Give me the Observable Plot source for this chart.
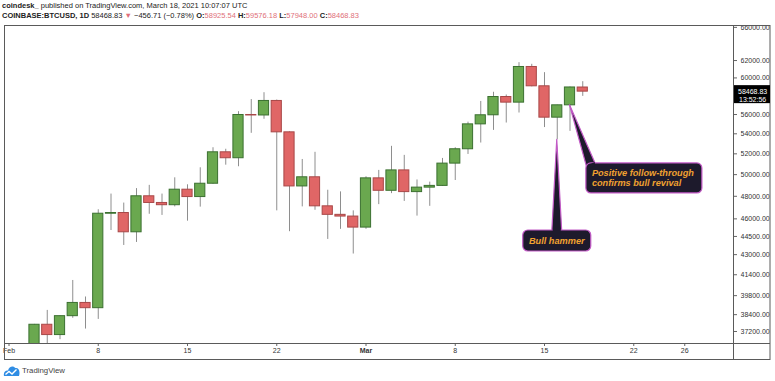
<!DOCTYPE html>
<html><head><meta charset="utf-8">
<script src="https://cdn.jsdelivr.net/npm/d3@7"></script>
<script src="https://cdn.jsdelivr.net/npm/@observablehq/plot@0.6"></script>
<style>
body{margin:0;background:#fff;width:775px;height:381px;overflow:hidden;position:relative;font-family:"Liberation Sans",Arial,sans-serif;}
#hdr{position:absolute;left:2px;top:1px;font-size:7.5px;line-height:10px;color:#222;white-space:nowrap}
#hdr .r{color:#e0707a}
#chart{position:absolute;left:0;top:23px}
#foot{position:absolute;left:3px;top:363px;height:14px;display:flex;align-items:center;font-size:7.8px;color:#444}
#foot svg{margin-right:2px}
</style></head><body>
<div id="hdr">
<div><b>coindesk_</b> published on TradingView.com, March 18, 2021 10:07:07 UTC</div>
<div><b>COINBASE:BTCUSD, 1D</b> 58468.83 <span class="r">▼</span> −456.71 (−0.78%) <b>O:</b><span class="r">58925.54</span> <b>H:</b><span class="r">59576.18</span> <b>L:</b><span class="r">57948.00</span> <b>C:</b><span class="r">58468.83</span></div>
</div>
<div id="chart"></div>
<div id="foot"><svg width="17" height="13" viewBox="0 0 17 13"><path d="M1,12 C0,8 3,6 5,6.5 C6,2.5 10,1 12.5,4 C15.5,3.5 17.5,7 16,12 Z" fill="#2f8de4"/><path d="M2.5,10.5 L6,7.5 L9,10 L13.5,5.5" fill="none" stroke="#fff" stroke-width="1.4"/></svg><span>TradingView</span></div>
<script>
// ---- data (BTC/USD daily, Coinbase) ----
const dates = ["2021-02-03","2021-02-04","2021-02-05","2021-02-06","2021-02-07","2021-02-08","2021-02-09","2021-02-10","2021-02-11","2021-02-12","2021-02-13","2021-02-14","2021-02-15","2021-02-16","2021-02-17","2021-02-18","2021-02-19","2021-02-20","2021-02-21","2021-02-22","2021-02-23","2021-02-24","2021-02-25","2021-02-26","2021-02-27","2021-02-28","2021-03-01","2021-03-02","2021-03-03","2021-03-04","2021-03-05","2021-03-06","2021-03-07","2021-03-08","2021-03-09","2021-03-10","2021-03-11","2021-03-12","2021-03-13","2021-03-14","2021-03-15","2021-03-16","2021-03-17","2021-03-18"];
const openP  = [35510,37675,36950,38290,39257,38871,46448,46510,44850,48000,47400,47200,48600,47930,49150,52150,51570,55950,55900,57450,54150,48900,49750,47100,46350,46200,45250,49650,48500,50400,48380,48790,48950,51050,52450,54970,55920,57880,57270,61250,59060,55670,56980,58925.54];
const highP  = [37700,38708,38310,40955,39700,46795,48200,47390,48700,49000,48200,49700,49050,50650,52600,52450,56300,57600,58350,57550,54200,51450,52150,48550,48400,46700,49800,50400,52740,51850,49500,49300,51550,52600,55200,57400,58400,58100,61750,61560,60600,57000,58980,59576.18];
const lowP   = [35362,36161,36630,38138,37371,38056,45000,43750,44000,46400,46300,47050,45800,47030,49100,50900,50750,54050,55500,46700,44900,47050,46750,44250,45100,43050,45100,47250,48240,47540,46240,47100,48900,49450,51940,53070,54350,55110,56160,59000,54640,53400,54250,57948.00];
const closeP = [37675,36950,38290,39257,38871,46448,46510,44850,48000,47400,47200,48600,47930,49150,52150,51570,55950,55900,57450,54150,48900,49750,47100,46350,46200,45250,49650,48500,50400,48380,48790,48950,51050,52450,54970,55920,57880,57270,61250,59060,55670,56980,58930,58468.83];

const yTicks = [66000,62000,60000,56000,54000,52000,50000,48000,46000,44500,43000,41400,39800,38400,37200];
const xTickDates = ["2021-02-01","2021-02-08","2021-02-15","2021-02-22","2021-03-01","2021-03-08","2021-03-15","2021-03-22","2021-03-26"];
const xTickLabels = ["Feb","8","15","22","Mar","8","15","22","26"];

const lastPrice = 58468.83;
const countdown = "13:52:56";

const annotations = [
  {lines:["Bull hammer"], tipDate:"2021-03-16", tipPrice:53400, boxDate:"2021-03-16T00:00Z", boxPrice:44120, w:68, h:21, align:"middle", base:"center"},
  {lines:["Positive follow-through","confirms bull revival"], tipDate:"2021-03-17", tipPrice:56980, boxDate:"2021-03-22T20:00Z", boxPrice:49640, w:116, h:30, align:"start", base:"left"}
];

// ---- build ----
const DAY = 864e5;
const parse = s => new Date(s.length > 10 ? s : s + "T00:00Z");
const candles = dates.map((d,i) => ({date: parse(d), open: openP[i], high: highP[i], low: lowP[i], close: closeP[i]}));
const up = d => d.close >= d.open;
const feb1 = parse("2021-02-01");
const pxPerDay = 12.75, x0px = 8.5, W = 775, H = 337, mL = 4, mR = 42, mT = 2, mB = 17;
const xDomain = [new Date(+feb1 - (x0px - mL) / pxPerDay * DAY), new Date(+feb1 + (W - mR - x0px) / pxPerDay * DAY)];
const labelMap = new Map(xTickDates.map((d,i) => [+parse(d), xTickLabels[i]]));

const plot = Plot.plot({
  width: W, height: H,
  marginLeft: mL, marginRight: mR, marginTop: mT, marginBottom: mB,
  style: {fontFamily: "Liberation Sans, Arial, sans-serif", fontSize: "7px", background: "#fff", color: "#333"},
  x: {type: "utc", domain: xDomain},
  y: {type: "log", domain: [36367, 66233]},
  marks: [
    Plot.ruleX(candles, {x: "date", y1: "low", y2: "high", stroke: "#8e8e8e", strokeWidth: 1, clip: true}),
    Plot.rect(candles, {
      x1: d => new Date(+d.date - 0.4 * DAY), x2: d => new Date(+d.date + 0.4 * DAY),
      y1: "open", y2: "close",
      fill: d => up(d) ? "#6aa84f" : "#e06666",
      stroke: d => up(d) ? "#3b7030" : "#a84848",
      strokeWidth: 1, clip: true
    }),
    Plot.axisX({ticks: xTickDates.map(parse), tickFormat: d => labelMap.get(+d), tickSize: 3, tickPadding: 2, fontSize: 7, stroke: "#666"}),
    Plot.axisY({anchor: "right", ticks: yTicks, tickFormat: d => d.toFixed(2), tickSize: 3, tickPadding: 4, fontSize: 7, stroke: "#666"})
  ]
});
document.getElementById("chart").appendChild(plot);

// ---- decorations using the plot's scales ----
const sx = plot.scale("x"), sy = plot.scale("y");
const svg = d3.select(plot);
svg.selectAll("text").filter(function(){ return this.textContent === "Mar"; }).attr("font-weight", "bold");
const defs = svg.append("defs");
defs.append("clipPath").attr("id", "yclip").append("rect").attr("x", W - mR).attr("y", mT + 0.5).attr("width", mR).attr("height", H);
svg.selectAll("g[aria-label='y-axis tick label'], g[aria-label='y-axis tick']").attr("clip-path", "url(#yclip)");
// frame
const fr = svg.append("g").attr("stroke", "#5a5a5a").attr("fill", "none").attr("stroke-width", 1);
fr.append("rect").attr("x", mL + 0.5).attr("y", mT + 0.5).attr("width", W - 5 - mL - 0.5).attr("height", H - mT - 1);
fr.append("line").attr("x1", W - mR + 0.5).attr("x2", W - mR + 0.5).attr("y1", mT).attr("y2", H);
fr.append("line").attr("x1", mL).attr("x2", W - 5).attr("y1", H - mB + 0.5).attr("y2", H - mB + 0.5);
// last price label
const yp = sy.apply(lastPrice);
const pl = svg.append("g").attr("text-anchor", "start");
pl.append("rect").attr("x", W - mR + 1).attr("y", yp - 6).attr("width", 36).attr("height", 18).attr("fill", "#000");
pl.append("text").attr("x", W - mR + 5).attr("y", yp).attr("dy", "0.35em").attr("fill", "#fff").attr("font-size", 7).attr("text-anchor", "start").text(lastPrice.toFixed(2));
pl.append("text").attr("x", W - mR + 6).attr("y", yp + 8).attr("dy", "0.35em").attr("fill", "#fff").attr("font-size", 7).attr("text-anchor", "start").text(countdown);
// annotations
const an = svg.append("g");
for (const a of annotations) {
  const cx = sx.apply(parse(a.boxDate)), cy = sy.apply(a.boxPrice);
  const left = cx - a.w / 2, top = cy - a.h / 2;
  const tx = sx.apply(parse(a.tipDate)), ty = sy.apply(a.tipPrice);
  const base = a.base === "center" ? [[cx - 5, top + 2], [cx + 5, top + 2]] : [[left + 1, top + 5], [left + 10, top + 2]];
  const wedge = `M${tx},${ty}L${base[1][0]},${base[1][1]}L${base[0][0]},${base[0][1]}Z`;
  an.append("path").attr("d", wedge).attr("fill", "#1d1a2c").attr("stroke", "#c25ac6").attr("stroke-width", 1.2).attr("stroke-linejoin", "round");
  an.append("rect").attr("x", left).attr("y", top).attr("width", a.w).attr("height", a.h).attr("rx", 5)
    .attr("fill", "#1d1a2c").attr("stroke", "#c25ac6").attr("stroke-width", 1.2);
  an.append("path").attr("d", `M${base[0][0]+1},${base[0][1]+1}L${base[1][0]-1},${base[1][1]+1}L${base[1][0]-1},${base[1][1]-3}L${base[0][0]+1},${base[0][1]-3}Z`).attr("fill", "#1d1a2c");
  const n = a.lines.length, lh = 9.5;
  a.lines.forEach((ln, i) => {
    an.append("text")
      .attr("x", a.align === "middle" ? cx : left + 6)
      .attr("y", cy + (i - (n - 1) / 2) * lh)
      .attr("dy", "0.35em")
      .attr("text-anchor", a.align)
      .attr("fill", "#f0a130").attr("font-size", 9.2).attr("font-weight", "bold").attr("font-style", "italic")
      .text(ln);
  });
}
</script>
</body></html>
